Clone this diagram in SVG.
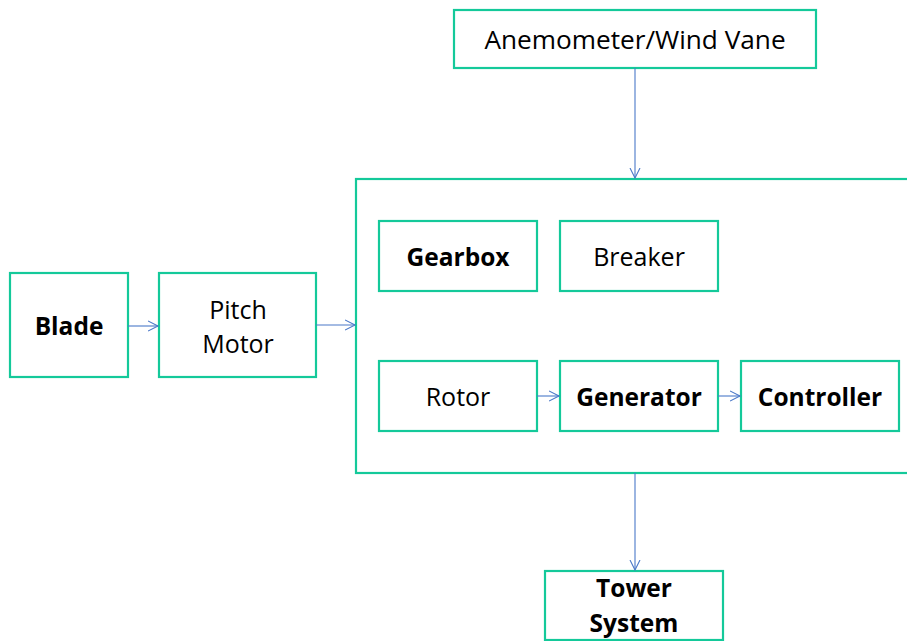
<svg xmlns="http://www.w3.org/2000/svg" width="907" height="641" viewBox="0 0 907 641">
<style>
.box{fill:#fff;stroke:#14C99A;stroke-width:2.2}
.t{font-family:"Open Sans","Noto Sans","Liberation Sans",sans-serif;font-size:25px;fill:#000;text-anchor:middle}
.b{font-weight:bold;font-size:24.5px}
.c{stroke:#4A78C8;stroke-width:1.1;fill:none}
</style>
<defs>
<marker id="ah" markerUnits="userSpaceOnUse" markerWidth="12" markerHeight="12" refX="10" refY="5" orient="auto" viewBox="0 0 12 10">
<path d="M0,0 L10,5 L0,10" fill="none" stroke="#4A78C8" stroke-width="1.1"/>
</marker>
</defs>
<rect width="907" height="641" fill="#fff"/>
<g id="nacelle"><rect class="box" x="356" y="179" width="570" height="294"/></g>
<g id="anemometer"><rect class="box" x="454" y="10" width="362" height="58"/><text class="t" x="635" y="49" style="font-size:26.2px">Anemometer/Wind Vane</text></g>
<g id="blade"><rect class="box" x="10" y="273" width="118" height="104"/><text class="t b" x="69" y="335">Blade</text></g>
<g id="pitch-motor"><rect class="box" x="159" y="273" width="157" height="104"/><text class="t" x="238" y="319">Pitch</text><text class="t" x="238" y="353">Motor</text></g>
<g id="gearbox"><rect class="box" x="379" y="221" width="158" height="70"/><text class="t b" x="458" y="266">Gearbox</text></g>
<g id="breaker"><rect class="box" x="560" y="221" width="158" height="70"/><text class="t" x="639" y="266">Breaker</text></g>
<g id="rotor"><rect class="box" x="379" y="361" width="158" height="70"/><text class="t" x="458" y="406">Rotor</text></g>
<g id="generator"><rect class="box" x="560" y="361" width="158" height="70"/><text class="t b" x="639" y="406">Generator</text></g>
<g id="controller"><rect class="box" x="741" y="361" width="158" height="70"/><text class="t b" x="820" y="406">Controller</text></g>
<g id="tower"><rect class="box" x="545" y="571" width="178" height="69"/><text class="t b" x="634" y="597">Tower</text><text class="t b" x="634" y="632">System</text></g>
<g id="connectors">
<line class="c" x1="128" y1="326" x2="158" y2="326" marker-end="url(#ah)"/>
<line class="c" x1="316" y1="325" x2="355" y2="325" marker-end="url(#ah)"/>
<line class="c" x1="635" y1="68" x2="635" y2="178" marker-end="url(#ah)"/>
<line class="c" x1="635" y1="473" x2="635" y2="570" marker-end="url(#ah)"/>
<line class="c" x1="537" y1="396" x2="559" y2="396" marker-end="url(#ah)"/>
<line class="c" x1="718" y1="396" x2="740" y2="396" marker-end="url(#ah)"/>
</g>
</svg>
